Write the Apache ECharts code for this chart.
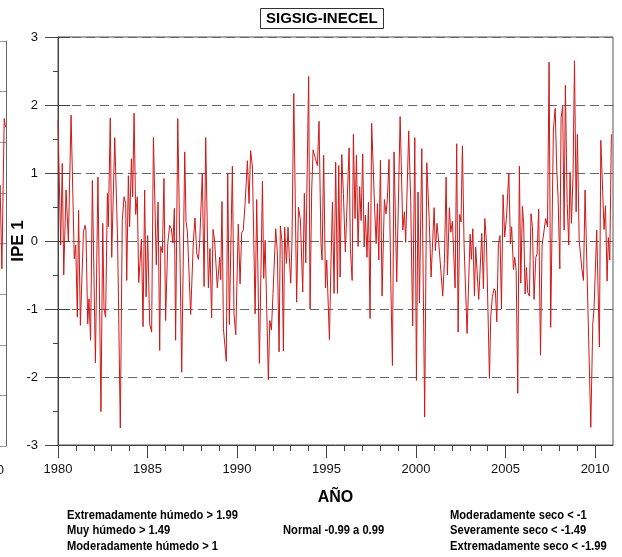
<!DOCTYPE html>
<html><head><meta charset="utf-8">
<script src="https://cdn.jsdelivr.net/npm/echarts@6/dist/echarts.min.js"></script>
<style>html,body{margin:0;padding:0;background:#fff}#c{width:622px;height:557px}</style>
</head><body><div id="c"></div>
<script>
// Monthly IPE 1 (SPI-1) readings, [year, value]
const d1980 = [
[1980.00,1.77],[1980.15,-0.06],[1980.24,1.14],[1980.32,-0.50],[1980.45,0.75],[1980.58,0.00],[1980.73,1.85],[1980.91,-0.26],[1980.99,-0.06],
[1981.08,-1.12],[1981.15,0.45],[1981.25,-1.24],[1981.42,0.13],[1981.51,0.23],[1981.56,0.16],[1981.66,-1.22],[1981.73,-0.85],[1981.82,-1.46],[1981.92,0.89],
[1982.09,-1.79],[1982.23,0.94],[1982.40,-2.51],[1982.50,0.26],[1982.57,-1.00],[1982.66,-1.12],[1982.76,0.70],[1982.81,0.21],[1982.92,1.81],
[1983.00,-0.24],[1983.17,1.52],[1983.33,0.00],[1983.48,-2.75],[1983.59,0.30],[1983.69,0.65],[1983.78,0.55],[1983.84,-0.58],[1983.93,0.96],
[1984.00,0.21],[1984.10,1.21],[1984.17,0.65],[1984.25,1.88],[1984.34,0.39],[1984.43,0.65],[1984.51,-0.61],[1984.66,0.03],[1984.75,-1.26],[1984.84,0.75],[1984.92,-0.82],
[1985.01,0.08],[1985.12,-1.22],[1985.23,-1.34],[1985.33,1.52],[1985.49,-0.35],[1985.59,0.57],[1985.68,-1.61],[1985.74,-0.08],[1985.83,-0.17],[1985.92,0.92],
[1986.01,-1.17],[1986.13,-0.04],[1986.24,0.23],[1986.33,0.18],[1986.42,-0.03],[1986.50,0.48],[1986.57,-1.46],[1986.69,1.80],[1986.82,-0.33],[1986.91,-1.93],
[1987.08,1.31],[1987.15,0.29],[1987.23,0.13],[1987.41,-1.08],[1987.56,-0.01],[1987.65,0.34],[1987.75,-0.18],[1987.84,-0.27],[1987.91,-0.04],[1987.99,-0.04],
[1988.06,1.00],[1988.16,-0.67],[1988.25,1.52],[1988.40,-0.69],[1988.49,-0.11],[1988.58,-1.13],[1988.66,0.17],[1988.75,0.00],[1988.90,-0.69],
[1989.03,-0.24],[1989.09,-0.57],[1989.16,0.58],[1989.24,-1.29],[1989.40,-1.77],[1989.48,0.99],[1989.57,-1.23],[1989.74,1.10],[1989.83,-1.07],[1989.93,-1.38]
];
const d1990 = [
[1990.07,0.25],[1990.17,-0.63],[1990.26,0.12],[1990.35,0.16],[1990.45,0.55],[1990.58,1.18],[1990.67,0.55],[1990.76,1.33],[1990.86,1.09],
[1991.01,-1.07],[1991.10,0.61],[1991.25,-1.80],[1991.42,0.88],[1991.49,-0.55],[1991.57,0.01],[1991.64,0.00],[1991.75,-2.04],[1991.83,-1.17],[1991.92,-1.31],
[1992.01,-0.77],[1992.16,0.18],[1992.25,-0.16],[1992.35,-1.63],[1992.42,0.22],[1992.51,0.00],[1992.59,-1.62],[1992.66,0.20],[1992.76,-0.33],[1992.85,0.20],[1992.92,-0.24],
[1993.00,-0.62],[1993.07,0.01],[1993.17,2.17],[1993.33,-0.90],[1993.43,0.50],[1993.54,0.31],[1993.67,-0.75],[1993.76,0.70],[1993.84,-0.32],
[1994.00,2.42],[1994.08,-1.00],[1994.17,0.75],[1994.25,1.34],[1994.38,1.21],[1994.49,1.11],[1994.58,1.76],[1994.69,-0.04],[1994.75,-0.28],[1994.84,1.26],[1994.94,-0.69],
[1995.01,-0.28],[1995.16,-1.45],[1995.25,-0.28],[1995.33,0.57],[1995.42,-0.77],[1995.51,1.16],[1995.61,-0.77],[1995.68,1.11],[1995.76,-0.53],[1995.85,1.27],[1995.94,0.70],
[1996.05,-0.16],[1996.15,-0.18],[1996.26,1.37],[1996.33,-0.11],[1996.43,-0.58],[1996.50,1.57],[1996.59,0.33],[1996.67,1.26],[1996.76,-0.08],[1996.85,0.80],[1996.93,0.30],
[1997.02,1.28],[1997.10,-0.09],[1997.17,0.38],[1997.26,-0.24],[1997.34,0.57],[1997.43,-1.14],[1997.52,1.73],[1997.69,0.45],[1997.77,-0.04],[1997.84,0.55],[1997.92,-0.28],
[1998.01,1.19],[1998.10,-0.81],[1998.23,0.61],[1998.32,0.40],[1998.40,0.62],[1998.49,1.20],[1998.59,-0.63],[1998.68,-1.83],[1998.77,1.31],[1998.92,-0.60],
[1999.11,1.83],[1999.26,0.16],[1999.35,0.43],[1999.42,-0.02],[1999.59,1.62],[1999.70,0.60],[1999.81,-1.25],[1999.93,1.52]
];
const d2000 = [
[2000.02,-2.05],[2000.11,0.72],[2000.19,-0.91],[2000.32,1.36],[2000.48,-2.59],[2000.60,1.15],[2000.73,0.35],[2000.84,-0.53],
[2001.01,0.49],[2001.08,-0.14],[2001.17,0.26],[2001.27,-0.03],[2001.34,-0.04],[2001.49,-0.81],[2001.58,-0.33],[2001.68,0.94],[2001.75,-0.50],[2001.86,0.49],[2001.94,0.13],
[2002.03,0.29],[2002.18,-0.69],[2002.27,1.43],[2002.35,-1.34],[2002.44,0.39],[2002.51,0.28],[2002.59,1.40],[2002.68,-0.04],[2002.85,-1.36],
[2003.02,0.10],[2003.09,-0.27],[2003.17,0.18],[2003.26,-0.81],[2003.33,-0.09],[2003.50,-0.86],[2003.67,0.11],[2003.76,-0.70],[2003.84,0.33],[2003.93,-0.01],
[2004.10,-2.02],[2004.17,-1.12],[2004.26,-0.82],[2004.36,-0.70],[2004.43,-0.73],[2004.51,-1.19],[2004.60,-0.04],[2004.69,0.08],[2004.77,-1.00],[2004.86,0.68],[2004.95,0.06],
[2005.05,0.35],[2005.18,1.00],[2005.27,-0.04],[2005.34,0.21],[2005.44,-0.42],[2005.51,-0.24],[2005.59,-0.43],[2005.68,-2.24],[2005.77,1.10],[2005.85,-0.62],[2005.94,0.51],
[2006.01,0.25],[2006.09,-0.78],[2006.16,-0.39],[2006.24,-0.76],[2006.33,-0.81],[2006.42,0.40],[2006.50,0.21],[2006.59,-0.86],[2006.69,-0.24],[2006.76,-0.19],[2006.85,0.47],[2006.95,-1.68],
[2007.04,-0.06],[2007.13,-0.04],[2007.24,0.33],[2007.34,0.21],[2007.43,2.63],[2007.52,-1.27],[2007.67,1.63],[2007.77,1.95],[2007.86,1.04],[2007.93,0.65],
[2008.03,-0.41],[2008.10,1.81],[2008.19,1.98],[2008.27,0.16],[2008.34,2.29],[2008.44,0.55],[2008.53,-0.06],[2008.60,1.01],[2008.68,0.26],[2008.77,0.99],[2008.85,2.65],[2008.94,0.43],
[2009.01,1.57],[2009.11,0.01],[2009.26,-0.41],[2009.35,-0.58],[2009.44,0.75],[2009.76,-2.74],[2009.87,-1.22],[2009.94,-1.00],
[2010.09,0.16],[2010.24,-1.56],[2010.32,1.48],[2010.41,1.50],[2010.50,0.17],[2010.58,0.52],[2010.67,-0.59],[2010.74,0.05],[2010.82,-0.28],[2010.91,1.57]
];
// tail of the neighbouring (cropped) panel on the left
const leftPanel = [[2010.55,0.40],[2010.67,1.15],[2010.77,-0.50],[2010.90,2.47],[2010.97,2.30]];

const xLabelYears = [1980,1985,1990,1995,2000,2005,2010];
const legendLeft = ['Extremadamente húmedo > 1.99','Muy húmedo > 1.49','Moderadamente húmedo > 1'];
const legendMid = ['Normal -0.99 a 0.99'];
const legendRight = ['Moderadamente seco < -1','Severamente seco < -1.49','Extremadamente seco < -1.99'];
const titleText = 'SIGSIG-INECEL';
const yName = 'IPE 1';
const leftPanelLabel = '2010';

const minorYears = [];
for (let y = 1981; y <= 2010; y++) if (y % 5 !== 0) minorYears.push(y);

const FF = 'Liberation Sans, Arial, sans-serif';
const AX = '#444';
const LEG = 'bold 12px Liberation Sans, Arial, sans-serif';

const chart = echarts.init(document.getElementById('c'), null, {renderer: 'canvas'});

const graphics = [];
const lineY = [516, 531, 547];
const sx = 0.93;
legendLeft.forEach((t, i) => graphics.push({type:'text', x:67, y:lineY[i], scaleX:sx, style:{text:t, font:LEG, fill:'#000', verticalAlign:'middle'}}));
legendMid.forEach((t) => graphics.push({type:'text', x:283, y:lineY[1], scaleX:sx, style:{text:t, font:LEG, fill:'#000', verticalAlign:'middle'}}));
legendRight.forEach((t, i) => graphics.push({type:'text', x:450, y:lineY[i], scaleX:sx, style:{text:t, font:LEG, fill:'#000', verticalAlign:'middle'}}));
graphics.push({type:'text', x:4, y:470, style:{text:leftPanelLabel, font:'13px Liberation Sans, Arial, sans-serif', fill:'#111', align:'right', verticalAlign:'middle'}});
graphics.push({type:'text', x:18, y:241, rotation:Math.PI/2, style:{text:yName, font:'bold 17px Liberation Sans, Arial, sans-serif', fill:'#000', align:'center', verticalAlign:'middle'}});

chart.setOption({
  animation: false,
  backgroundColor: '#fff',
  title: {
    text: titleText, left: 260, top: 8, padding: [3, 6], borderColor: '#333', borderWidth: 1,
    textStyle: {fontFamily: FF, fontWeight: 'bold', fontSize: 15, color: '#000'}
  },
  grid: [
    {left: 58, top: 37, right: 9, bottom: 112, show: true, borderColor: '#555', borderWidth: 1, containLabel: false, outerBoundsMode: 'none'},
    {left: 0, top: 41, width: 6, bottom: 111, show: false, containLabel: false, outerBoundsMode: 'none'}
  ],
  xAxis: [
    {gridIndex: 0, type: 'value', min: 1980, max: 2011, position: 'bottom',
     axisLine: {show: true, onZero: false, lineStyle: {color: AX}},
     axisTick: {show: true, customValues: xLabelYears, length: 13, lineStyle: {color: AX}},
     axisLabel: {customValues: xLabelYears, margin: 18, fontSize: 13, color: '#111', fontFamily: FF, formatter: v => String(v)},
     splitLine: {show: false},
     name: 'AÑO', nameLocation: 'middle', nameGap: 45,
     nameTextStyle: {fontFamily: FF, fontWeight: 'bold', fontSize: 16, color: '#000'}},
    {gridIndex: 0, type: 'value', min: 1980, max: 2011, position: 'bottom',
     axisLine: {show: false, onZero: false},
     axisTick: {show: true, customValues: minorYears, length: 6, lineStyle: {color: AX}},
     axisLabel: {show: false}, splitLine: {show: false}},
    {gridIndex: 1, type: 'value', min: 2010.665, max: 2011, position: 'bottom',
     axisLine: {show: false, onZero: false}, axisTick: {show: false},
     axisLabel: {show: false}, splitLine: {show: false}}
  ],
  yAxis: [
    {gridIndex: 0, type: 'value', min: -3, max: 3, interval: 1, position: 'left',
     axisLine: {show: true, onZero: false, lineStyle: {color: AX}},
     axisTick: {show: true, length: 13, lineStyle: {color: AX}},
     minorTick: {show: true, splitNumber: 2, length: 5, lineStyle: {color: AX}},
     axisLabel: {margin: 20, fontSize: 13, color: '#111', fontFamily: FF},
     splitLine: {show: true, lineStyle: {color: '#666', type: [9, 5], width: 1.2}}},
    {gridIndex: 0, type: 'value', min: -3, max: 3, interval: 1, position: 'left',
     axisLine: {show: false, onZero: false},
     axisTick: {show: true, inside: true, length: 12, lineStyle: {color: AX}},
     axisLabel: {show: false}, splitLine: {show: false}},
    {gridIndex: 1, type: 'value', min: -4, max: 4, interval: 1, position: 'right',
     axisLine: {show: true, onZero: false, lineStyle: {color: '#666'}}, axisTick: {show: false},
     axisLabel: {show: false}, splitLine: {show: true, lineStyle: {color: '#999', width: 1}}}
  ],
  series: [
    {type: 'line', xAxisIndex: 0, yAxisIndex: 0, data: d1980.concat(d1990, d2000),
     symbol: 'none', showSymbol: false, lineStyle: {color: '#d01818', width: 1}, z: 3},
    {type: 'line', xAxisIndex: 2, yAxisIndex: 2, data: leftPanel,
     symbol: 'none', showSymbol: false, lineStyle: {color: '#d01818', width: 1}}
  ],
  graphic: graphics
});
</script></body></html>
